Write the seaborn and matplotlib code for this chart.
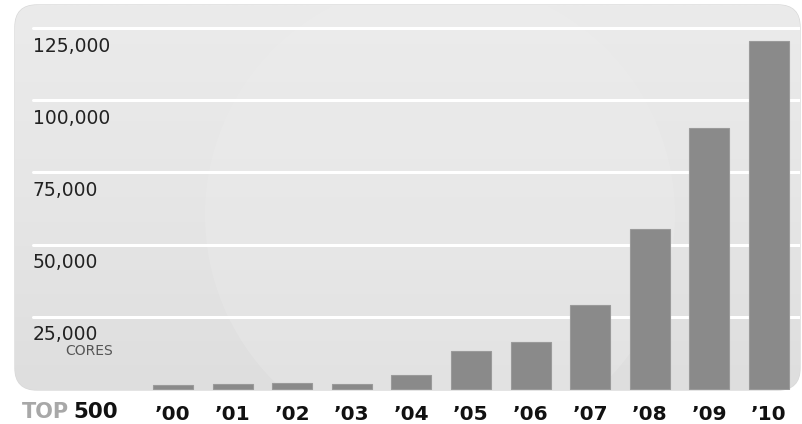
import numpy as np
import pandas as pd
import matplotlib
matplotlib.use("Agg")
import matplotlib.pyplot as plt
from matplotlib.patches import FancyBboxPatch, Circle
from matplotlib.colors import LinearSegmentedColormap
import seaborn as sns

# data
years = ["’00", "’01", "’02", "’03", "’04", "’05", "’06", "’07", "’08", "’09", "’10"]
cores = [1300, 1650, 2100, 1850, 4850, 13200, 16400, 29100, 55400, 90400, 120500]
grid_values = [25000, 50000, 75000, 100000, 125000]
grid_labels = ["25,000", "50,000", "75,000", "100,000", "125,000"]

df = pd.DataFrame({"year": years, "cores": cores})

sns.set_style("white")
plt.rcParams["font.family"] = ["DejaVu Sans"]

W, H = 802, 424
fig = plt.figure(figsize=(W / 100, H / 100), dpi=100)
fig.patch.set_facecolor("white")

# background axes in pixel coordinates for the rounded panel
bg = fig.add_axes([0, 0, 1, 1])
bg.set_xlim(0, W)
bg.set_ylim(H, 0)
bg.axis("off")

left, right, top, bottom = 15, 800, 5, 390
panel = FancyBboxPatch((left, top), right - left, bottom - top,
                       boxstyle="round,pad=0,rounding_size=22",
                       facecolor="#e7e7e7", edgecolor="#d9d9d9", linewidth=1.0, zorder=0)
bg.add_patch(panel)
grad = np.linspace(0, 1, 256).reshape(-1, 1)
img = bg.imshow(grad, extent=[left, right, bottom, top], aspect="auto", origin="lower",
                cmap=LinearSegmentedColormap.from_list("g", ["#dedede", "#e6e6e6", "#ebebeb"]),
                zorder=0.5)
img.set_clip_path(panel)
# faint gear watermark (just a soft disc)
wm = Circle((440, 215), 235, facecolor="#eeeeee", edgecolor="none", alpha=0.3, zorder=0.6)
bg.add_patch(wm)
wm.set_clip_path(panel)

# data axes over the panel
ax = fig.add_axes([left / W, 1 - bottom / H, (right - left) / W, (bottom - top) / H])
ax.set_facecolor("none")
for s in ax.spines.values():
    s.set_visible(False)

sns.barplot(data=df, x="year", y="cores", color="#8a8a8a", width=0.67,
            edgecolor="#9a9a9a", linewidth=0.8, saturation=1, ax=ax, zorder=3)

# categorical positions: '00 centre at x=173px, spacing 59.6px
step = 59.6
ax.set_xlim((left - 173) / step, (right - 173) / step)
per_px = 25000 / 72.2
ax.set_ylim(-(bottom - 389) * per_px, (389 - top) * per_px)

gx0 = (33 - left) / (right - left)
for v, lab in zip(grid_values, grid_labels):
    ax.axhline(v, xmin=gx0, xmax=1.0, color="white", linewidth=2.2, zorder=1)
    ax.text(gx0, v - 18 * per_px, lab, transform=ax.get_yaxis_transform(),
            ha="left", va="center", fontsize=13.5, color="#222222", zorder=4)
ax.text((113 - left) / (right - left), 25000 - 34 * per_px, "CORES",
        transform=ax.get_yaxis_transform(), ha="right", va="center",
        fontsize=10, color="#555555", zorder=4)

ax.set_yticks([])
ax.set_xticks(range(len(years)))
ax.set_xticklabels(years, fontsize=14.5, fontweight="heavy", color="#111111")
ax.tick_params(axis="x", length=0, pad=11)
ax.set_xlabel("")
ax.set_ylabel("")

fig.text(22 / W, 1 - 412 / H, "TOP", fontsize=15, fontweight="bold", color="#a8a8a8",
         ha="left", va="center")
fig.text(73 / W, 1 - 412 / H, "500", fontsize=15.5, fontweight="heavy", color="#111111",
         ha="left", va="center")

fig.savefig("out.png", dpi=100, facecolor="white")
